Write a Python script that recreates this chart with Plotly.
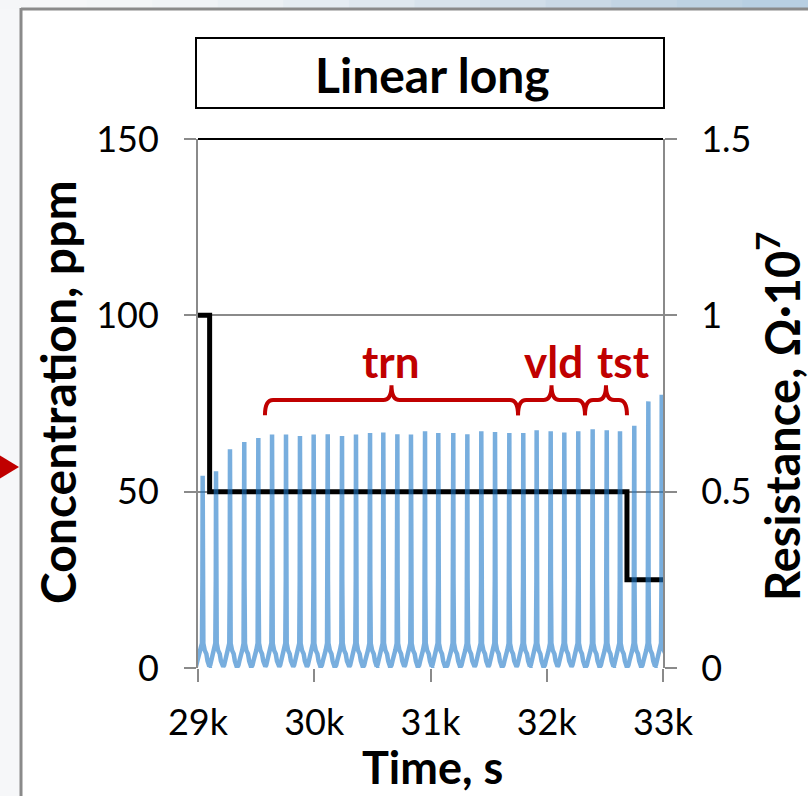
import plotly.graph_objects as go

# ---------------- data ----------------
X_TICKS = [29000, 30000, 31000, 32000, 33000]
X_TICK_TEXT = ["29k", "30k", "31k", "32k", "33k"]
Y_TICKS = [0, 50, 100, 150]
Y2_TICKS = [0, 0.5, 1, 1.5]
Y2_TICK_TEXT = ["0", "0.5", "1", "1.5"]

# concentration (ppm) step profile
CONC_TIME = [29000, 29100, 32690, 33000]
CONC_PPM = [100, 50, 25, 25]

# resistance spikes (Ohm * 1e7): peak times (s) and peak heights
PEAK_TIME = [29040, 29155, 29275, 29398, 29519, 29637, 29757, 29877, 29995, 30116,
             30239, 30359, 30480, 30594, 30715, 30832, 30953, 31067, 31196, 31317,
             31437, 31555, 31678, 31798, 31913, 32034, 32151, 32271, 32395, 32516,
             32630, 32753, 32874, 32989]
PEAK_RES = [0.545, 0.558, 0.620, 0.641, 0.652, 0.662, 0.662, 0.658, 0.662, 0.663,
            0.658, 0.662, 0.666, 0.668, 0.663, 0.662, 0.671, 0.666, 0.666, 0.663,
            0.671, 0.669, 0.666, 0.666, 0.674, 0.671, 0.668, 0.671, 0.677, 0.674,
            0.671, 0.687, 0.756, 0.775]
# shape of one cycle around each peak (offset in s, level); None marks the peak
CYCLE_OFFSET = [-58, -50, -42, -32, -18, -6, -2, 0, 2, 6, 18, 32, 42, 50, 58]
CYCLE_LEVEL = [0.004, 0.008, 0.02, 0.04, 0.05, 0.07, 0.25, None,
               0.25, 0.07, 0.05, 0.04, 0.02, 0.008, 0.004]

# data-set split braces
BRACE_EDGES = [29576, 31753, 32329, 32690]
BRACE_LABELS = ["trn", "vld", "tst"]
BRACE_LABEL_X = [30657, 32054, 32664]

# ---------------- build series ----------------
res_t, res_v = [29000], [0.03]
for tp, pk in zip(PEAK_TIME, PEAK_RES):
    for off, lvl in zip(CYCLE_OFFSET, CYCLE_LEVEL):
        res_t.append(tp + off)
        res_v.append(pk if lvl is None else lvl)

FONT = "Lato"
RED = "#C00000"
GRAY = "#8a8a8a"

fig = go.Figure()
fig.add_trace(go.Scatter(x=CONC_TIME, y=CONC_PPM, mode="lines", line_shape="hv",
                         line=dict(color="#000000", width=5), yaxis="y",
                         showlegend=False, hoverinfo="skip"))
fig.add_trace(go.Scatter(x=res_t, y=res_v, mode="lines",
                         line=dict(color="rgba(30,120,200,0.6)", width=4.5),
                         yaxis="y2", showlegend=False, hoverinfo="skip"))

# ---------------- geometry helpers (pixel -> paper) ----------------
L, R, T, B = 198, 663, 139, 668
W, H = 808, 796


def px(xp):
    return (xp - L) / (R - L)


def py(yp):
    return (B - yp) / (B - T)


shapes = []
# slide background strips outside the frame
shapes.append(dict(type="rect", xref="paper", yref="paper", x0=px(0), x1=px(21),
                   y0=py(W), y1=py(0), fillcolor="#f6f7f9", line_width=0, layer="below"))
top_cols = ["#f5f6f8", "#f3f5f7", "#f0f3f6", "#ebf0f4", "#e5ecf2", "#dfe8ef",
            "#d8e3ec", "#d1dee9", "#cad9e6", "#c3d5e4", "#bdd2e3", "#b8cfe2"]
n = len(top_cols)
for i, c in enumerate(top_cols):
    shapes.append(dict(type="rect", xref="paper", yref="paper",
                       x0=px(21 + i * (W - 21) / n), x1=px(21 + (i + 1) * (W - 21) / n + 1),
                       y0=py(9), y1=py(0), fillcolor=c, line_width=0, layer="below"))
shapes.append(dict(type="rect", xref="paper", yref="paper", x0=px(0), x1=px(21),
                   y0=py(9), y1=py(0), fillcolor="#f5f6f8", line_width=0, layer="below"))
# frame
shapes.append(dict(type="line", xref="paper", yref="paper", x0=px(21), x1=px(W + 2),
                   y0=py(9), y1=py(9), line=dict(color=GRAY, width=3)))
shapes.append(dict(type="line", xref="paper", yref="paper", x0=px(21), x1=px(21),
                   y0=py(8), y1=py(H + 2), line=dict(color=GRAY, width=3)))
# red arrow head at the left edge
shapes.append(dict(type="path", xref="paper", yref="paper",
                   path=f"M {px(-6)},{py(452)} L {px(19)},{py(467)} L {px(-6)},{py(482)} Z",
                   fillcolor=RED, line_width=0))
# title box
shapes.append(dict(type="rect", xref="paper", yref="paper", x0=px(196), x1=px(664),
                   y0=py(108), y1=py(38), line=dict(color="#000000", width=2),
                   fillcolor="white"))
# dark top border of plot area
shapes.append(dict(type="line", xref="paper", yref="paper", x0=0, x1=1, y0=1, y1=1,
                   line=dict(color="#000000", width=2)))

# braces (data coordinates, left axis)
yb, ym, yt = 71.7, 76.0, 80.2
r = 70
for x0, x1 in zip(BRACE_EDGES[:-1], BRACE_EDGES[1:]):
    xc = (x0 + x1) / 2
    path = (f"M {x0},{yb} Q {x0},{ym} {x0 + r},{ym} L {xc - r},{ym} "
            f"Q {xc},{ym} {xc},{yt} Q {xc},{ym} {xc + r},{ym} "
            f"L {x1 - r},{ym} Q {x1},{ym} {x1},{yb}")
    shapes.append(dict(type="path", xref="x", yref="y", path=path,
                       line=dict(color=RED, width=4)))

annotations = []
annotations.append(dict(text="<b>Linear long</b>", xref="paper", yref="paper",
                        x=px(432), y=py(75), xanchor="center", yanchor="middle",
                        showarrow=False, font=dict(family=FONT, size=48, color="#000")))
annotations.append(dict(text="<b>Concentration, ppm</b>", xref="paper", yref="paper",
                        x=px(57), y=py(392), xanchor="center", yanchor="middle",
                        textangle=-90, showarrow=False,
                        font=dict(family=FONT, size=48, color="#000")))
annotations.append(dict(text="<b>Resistance, Ω·10<sup>7</sup></b>", xref="paper", yref="paper",
                        x=px(779), y=py(417), xanchor="center", yanchor="middle",
                        textangle=-90, showarrow=False,
                        font=dict(family=FONT, size=47, color="#000")))
annotations.append(dict(text="<b>Time, s</b>", xref="paper", yref="paper",
                        x=px(432), y=py(767), xanchor="center", yanchor="middle",
                        showarrow=False, font=dict(family=FONT, size=45, color="#000")))
for lab, lx in zip(BRACE_LABELS, BRACE_LABEL_X):
    annotations.append(dict(text=f"<b>{lab}</b>", xref="x", yref="y", x=lx, y=87.0,
                            xanchor="center", yanchor="middle", showarrow=False,
                            font=dict(family=FONT, size=44, color=RED)))

fig.update_layout(
    width=W, height=H,
    margin=dict(l=L, r=W - R, t=T, b=H - B, pad=0),
    paper_bgcolor="white", plot_bgcolor="white",
    showlegend=False,
    shapes=shapes, annotations=annotations,
    xaxis=dict(range=[29000, 33000], tickmode="array", tickvals=X_TICKS,
               ticktext=X_TICK_TEXT, ticks="outside", ticklen=13, tickwidth=2,
               tickcolor=GRAY, showgrid=False, zeroline=False, showline=False,
               ticklabelstandoff=10,
               tickfont=dict(family=FONT, size=36, color="#000")),
    yaxis=dict(range=[0, 150], tickmode="array", tickvals=Y_TICKS, ticks="outside",
               ticklen=12, tickwidth=2, tickcolor=GRAY, showgrid=True,
               gridcolor=GRAY, gridwidth=2, zeroline=False, showline=True,
               linecolor=GRAY, linewidth=2, ticklabelstandoff=18,
               tickfont=dict(family=FONT, size=36, color="#000")),
    yaxis2=dict(range=[0, 1.5], overlaying="y", side="right", tickmode="array",
                tickvals=Y2_TICKS, ticktext=Y2_TICK_TEXT, ticks="outside",
                ticklen=12, tickwidth=2, tickcolor=GRAY, showgrid=False,
                zeroline=False, showline=True, linecolor=GRAY, linewidth=2,
                ticklabelstandoff=17,
                tickfont=dict(family=FONT, size=36, color="#000")),
)

fig.write_html("out.html", config={"displayModeBar": False},
               post_script="document.body.style.margin='0px';")
